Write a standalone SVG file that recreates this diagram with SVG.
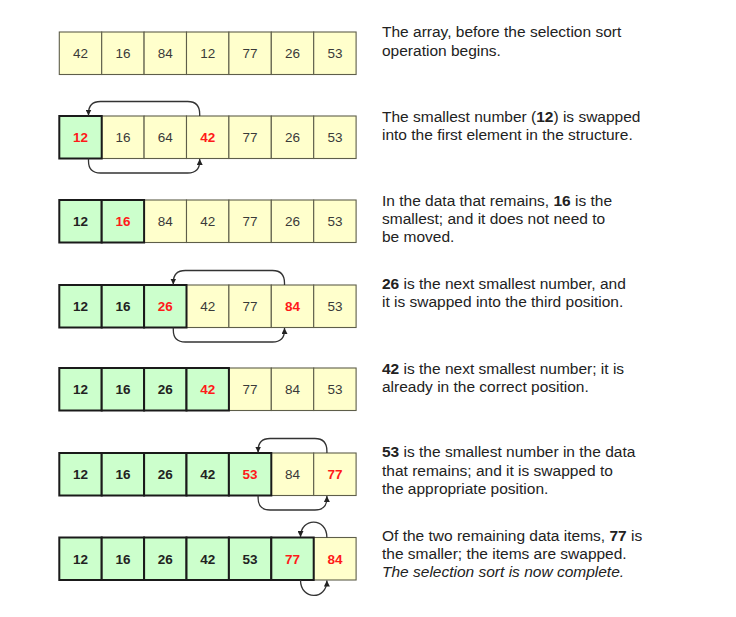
<svg xmlns="http://www.w3.org/2000/svg" width="736" height="617" viewBox="0 0 736 617">
<style>
.y{fill:#ffffcc;stroke:#5e5e4a;stroke-width:1.1}
.g{fill:#ccffcc;stroke:#1a1a1a;stroke-width:2}
.n{font-family:"Liberation Sans",Arial,sans-serif;font-size:13.5px;text-anchor:middle;fill:#3a3a3a}
.b{font-weight:bold;fill:#222}
.r{font-weight:bold;fill:#ff1a1a}
.d{font-family:"Liberation Sans",Arial,sans-serif;font-size:15.5px;fill:#222}
.k{font-weight:bold}
.c{fill:none;stroke:#333;stroke-width:1.3}
</style>
<defs>
<marker id="ah" markerUnits="userSpaceOnUse" markerWidth="7" markerHeight="6" refX="6" refY="3" orient="auto">
<path d="M0,0 L6,3 L0,6 z" fill="#222"/>
</marker>
</defs>
<rect width="736" height="617" fill="#fff"/>

<g id="row1">
<rect class="y" x="59.3" y="32" width="42.4" height="42.5"/><rect class="y" x="101.7" y="32" width="42.4" height="42.5"/><rect class="y" x="144.1" y="32" width="42.4" height="42.5"/><rect class="y" x="186.5" y="32" width="42.4" height="42.5"/><rect class="y" x="228.9" y="32" width="42.4" height="42.5"/><rect class="y" x="271.3" y="32" width="42.4" height="42.5"/><rect class="y" x="313.7" y="32" width="42.4" height="42.5"/>
<text class="n" x="80.5" y="58">42</text><text class="n" x="122.9" y="58">16</text><text class="n" x="165.3" y="58">84</text><text class="n" x="207.7" y="58">12</text><text class="n" x="250.1" y="58">77</text><text class="n" x="292.5" y="58">26</text><text class="n" x="334.9" y="58">53</text>
</g>

<g id="row2">
<rect class="y" x="101.7" y="116" width="42.4" height="42.5"/><rect class="y" x="144.1" y="116" width="42.4" height="42.5"/><rect class="y" x="186.5" y="116" width="42.4" height="42.5"/><rect class="y" x="228.9" y="116" width="42.4" height="42.5"/><rect class="y" x="271.3" y="116" width="42.4" height="42.5"/><rect class="y" x="313.7" y="116" width="42.4" height="42.5"/>
<rect class="g" x="59.3" y="116" width="42.4" height="42.5"/>
<text class="n r" x="80.5" y="142">12</text><text class="n" x="122.9" y="142">16</text><text class="n" x="165.3" y="142">64</text><text class="n r" x="207.7" y="142">42</text><text class="n" x="250.1" y="142">77</text><text class="n" x="292.5" y="142">26</text><text class="n" x="334.9" y="142">53</text>
</g>

<g id="row3">
<rect class="y" x="144.1" y="200" width="42.4" height="42.5"/><rect class="y" x="186.5" y="200" width="42.4" height="42.5"/><rect class="y" x="228.9" y="200" width="42.4" height="42.5"/><rect class="y" x="271.3" y="200" width="42.4" height="42.5"/><rect class="y" x="313.7" y="200" width="42.4" height="42.5"/>
<rect class="g" x="59.3" y="200" width="42.4" height="42.5"/><rect class="g" x="101.7" y="200" width="42.4" height="42.5"/>
<text class="n b" x="80.5" y="226">12</text><text class="n r" x="122.9" y="226">16</text><text class="n" x="165.3" y="226">84</text><text class="n" x="207.7" y="226">42</text><text class="n" x="250.1" y="226">77</text><text class="n" x="292.5" y="226">26</text><text class="n" x="334.9" y="226">53</text>
</g>

<g id="row4">
<rect class="y" x="186.5" y="285" width="42.4" height="42.5"/><rect class="y" x="228.9" y="285" width="42.4" height="42.5"/><rect class="y" x="271.3" y="285" width="42.4" height="42.5"/><rect class="y" x="313.7" y="285" width="42.4" height="42.5"/>
<rect class="g" x="59.3" y="285" width="42.4" height="42.5"/><rect class="g" x="101.7" y="285" width="42.4" height="42.5"/><rect class="g" x="144.1" y="285" width="42.4" height="42.5"/>
<text class="n b" x="80.5" y="311">12</text><text class="n b" x="122.9" y="311">16</text><text class="n r" x="165.3" y="311">26</text><text class="n" x="207.7" y="311">42</text><text class="n" x="250.1" y="311">77</text><text class="n r" x="292.5" y="311">84</text><text class="n" x="334.9" y="311">53</text>
</g>

<g id="row5">
<rect class="y" x="228.9" y="368" width="42.4" height="42.5"/><rect class="y" x="271.3" y="368" width="42.4" height="42.5"/><rect class="y" x="313.7" y="368" width="42.4" height="42.5"/>
<rect class="g" x="59.3" y="368" width="42.4" height="42.5"/><rect class="g" x="101.7" y="368" width="42.4" height="42.5"/><rect class="g" x="144.1" y="368" width="42.4" height="42.5"/><rect class="g" x="186.5" y="368" width="42.4" height="42.5"/>
<text class="n b" x="80.5" y="394">12</text><text class="n b" x="122.9" y="394">16</text><text class="n b" x="165.3" y="394">26</text><text class="n r" x="207.7" y="394">42</text><text class="n" x="250.1" y="394">77</text><text class="n" x="292.5" y="394">84</text><text class="n" x="334.9" y="394">53</text>
</g>

<g id="row6">
<rect class="y" x="271.3" y="453" width="42.4" height="42.5"/><rect class="y" x="313.7" y="453" width="42.4" height="42.5"/>
<rect class="g" x="59.3" y="453" width="42.4" height="42.5"/><rect class="g" x="101.7" y="453" width="42.4" height="42.5"/><rect class="g" x="144.1" y="453" width="42.4" height="42.5"/><rect class="g" x="186.5" y="453" width="42.4" height="42.5"/><rect class="g" x="228.9" y="453" width="42.4" height="42.5"/>
<text class="n b" x="80.5" y="479">12</text><text class="n b" x="122.9" y="479">16</text><text class="n b" x="165.3" y="479">26</text><text class="n b" x="207.7" y="479">42</text><text class="n r" x="250.1" y="479">53</text><text class="n" x="292.5" y="479">84</text><text class="n r" x="334.9" y="479">77</text>
</g>

<g id="row7">
<rect class="y" x="313.7" y="537.5" width="42.4" height="42.5"/>
<rect class="g" x="59.3" y="537.5" width="42.4" height="42.5"/><rect class="g" x="101.7" y="537.5" width="42.4" height="42.5"/><rect class="g" x="144.1" y="537.5" width="42.4" height="42.5"/><rect class="g" x="186.5" y="537.5" width="42.4" height="42.5"/><rect class="g" x="228.9" y="537.5" width="42.4" height="42.5"/><rect class="g" x="271.3" y="537.5" width="42.4" height="42.5"/>
<text class="n b" x="80.5" y="563.5">12</text><text class="n b" x="122.9" y="563.5">16</text><text class="n b" x="165.3" y="563.5">26</text><text class="n b" x="207.7" y="563.5">42</text><text class="n b" x="250.1" y="563.5">53</text><text class="n r" x="292.5" y="563.5">77</text><text class="n r" x="334.9" y="563.5">84</text>
</g>

<g id="connectors">
<path class="c" marker-end="url(#ah)" d="M199.7,116 L199.7,114 Q199.7,101.5 187.7,101.5 L100.5,101.5 Q88.5,101.5 88.5,113.5 L88.5,115.5"/>
<path class="c" marker-end="url(#ah)" d="M88.5,158.5 L88.5,161 Q88.5,173 100.5,173 L187.7,173 Q199.7,173 199.7,161 L199.7,159"/>
<path class="c" marker-end="url(#ah)" d="M284.5,285 L284.5,283 Q284.5,270.5 272.5,270.5 L185.3,270.5 Q173.3,270.5 173.3,282.5 L173.3,284.5"/>
<path class="c" marker-end="url(#ah)" d="M173.3,327.5 L173.3,330 Q173.3,342 185.3,342 L272.5,342 Q284.5,342 284.5,330 L284.5,328"/>
<path class="c" marker-end="url(#ah)" d="M326.9,453 L326.9,451 Q326.9,438.5 314.9,438.5 L270.1,438.5 Q258.1,438.5 258.1,450.5 L258.1,452.5"/>
<path class="c" marker-end="url(#ah)" d="M258.1,495.5 L258.1,498 Q258.1,510 270.1,510 L314.9,510 Q326.9,510 326.9,498 L326.9,496"/>
<path class="c" marker-end="url(#ah)" d="M326.9,537.5 C326.9,517 300.5,517 300.5,537"/>
<path class="c" marker-end="url(#ah)" d="M300.5,580 C300.5,600.5 326.9,600.5 326.9,580.5"/>
</g>

<g id="desc1"><text class="d" x="382" y="37.3">The array, before the selection sort</text><text class="d" x="382" y="55.6">operation begins.</text></g>
<g id="desc2"><text class="d" x="382" y="122">The smallest number (<tspan class="k">12</tspan>) is swapped</text><text class="d" x="382" y="140.3">into the first element in the structure.</text></g>
<g id="desc3"><text class="d" x="382" y="205.7">In the data that remains, <tspan class="k">16</tspan> is the</text><text class="d" x="382" y="224">smallest; and it does not need to</text><text class="d" x="382" y="242.3">be moved.</text></g>
<g id="desc4"><text class="d" x="382" y="289"><tspan class="k">26</tspan> is the next smallest number, and</text><text class="d" x="382" y="307.3">it is swapped into the third position.</text></g>
<g id="desc5"><text class="d" x="382" y="374"><tspan class="k">42</tspan> is the next smallest number; it is</text><text class="d" x="382" y="392.3">already in the correct position.</text></g>
<g id="desc6"><text class="d" x="382" y="457.3"><tspan class="k">53</tspan> is the smallest number in the data</text><text class="d" x="382" y="475.6">that remains; and it is swapped to</text><text class="d" x="382" y="493.9">the appropriate position.</text></g>
<g id="desc7"><text class="d" x="382" y="540.7">Of the two remaining data items, <tspan class="k">77</tspan> is</text><text class="d" x="382" y="559">the smaller; the items are swapped.</text><text class="d" x="382" y="577.3" font-style="italic">The selection sort is now complete.</text></g>
</svg>
